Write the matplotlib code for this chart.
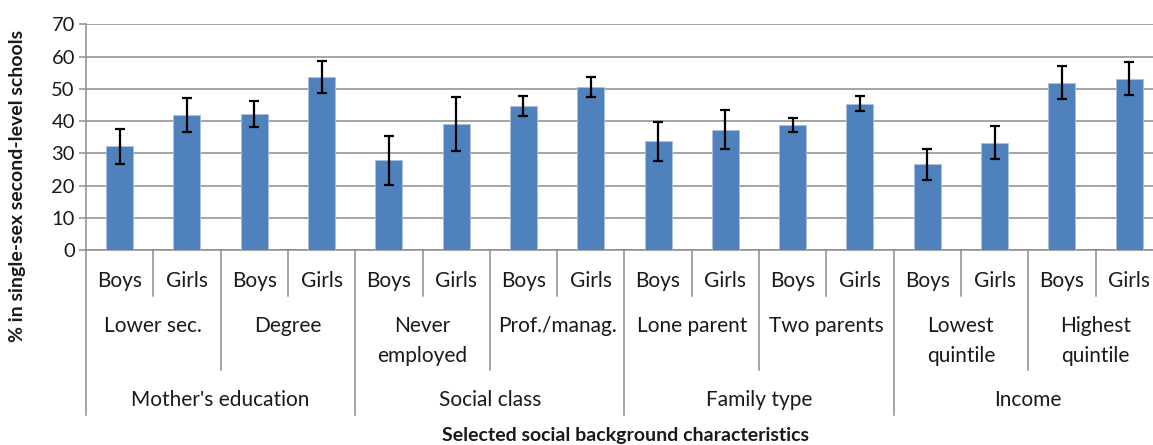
import matplotlib
matplotlib.use("Agg")
import matplotlib.pyplot as plt
import matplotlib.transforms as mtransforms
import numpy as np

# ---- data ----
groups = ["Mother's education", "Social class", "Family type", "Income"]
subgroups = ["Lower sec.", "Degree", "Never\nemployed", "Prof./manag.",
             "Lone parent", "Two parents", "Lowest\nquintile", "Highest\nquintile"]
sexes = ["Boys", "Girls"]
values = [32.3, 41.9, 42.2, 53.7, 27.8, 39.1, 44.7, 50.7,
          33.7, 37.3, 38.7, 45.4, 26.6, 33.3, 51.9, 53.1]
err_high = [37.6, 47.1, 46.3, 58.5, 35.4, 47.4, 47.8, 53.8,
            39.8, 43.5, 40.9, 47.8, 31.3, 38.5, 57.1, 58.3]
err_low = [26.8, 36.5, 38.2, 48.7, 20.2, 30.8, 41.7, 47.4,
           27.5, 31.2, 36.5, 43.1, 21.8, 28.3, 46.8, 48.2]
yticks = [0, 10, 20, 30, 40, 50, 60, 70]
ylabel = "% in single-sex second-level schools"
xlabel = "Selected social background characteristics"

# ---- layout ----
W, H = 1153, 445
plt.rcParams['font.family'] = ['Lato', 'DejaVu Sans']
fig = plt.figure(figsize=(W / 100, H / 100), dpi=100)
x0_px, x1_px = 86, 86 + 16 * 67.3
y0_px, y1_px = 250, 24.3
ax = fig.add_axes([x0_px / W, 1 - y0_px / H, (x1_px - x0_px) / W, (y0_px - y1_px) / H])

n = len(values)
x = np.arange(n)
vals = np.array(values)
yerr = np.vstack([vals - np.array(err_low), np.array(err_high) - vals])
ax.bar(x, vals, width=0.4, color="#4F81BD", edgecolor="#a9c0de", linewidth=0.6, zorder=3)
ax.errorbar(x, vals, yerr=yerr, fmt="none", ecolor="black", elinewidth=1.6,
            capsize=3.8, capthick=1.6, zorder=4)

ax.set_xlim(-0.5, n - 0.5)
ax.set_ylim(0, 70)
ax.set_yticks(yticks)
ax.set_xticks([])
grid_c = "#8c8c8c"
ax.yaxis.grid(True, color=grid_c, linewidth=1.1, zorder=0)
ax.set_axisbelow(True)
for s in ["top", "right", "bottom"]:
    ax.spines[s].set_visible(False)
ax.spines["left"].set_color(grid_c)
ax.spines["left"].set_linewidth(1.1)
ax.tick_params(axis="y", length=5, width=1.1, color=grid_c, labelsize=14.5,
               labelcolor="#1a1a1a", pad=3)

# ---- multi-level category axis ----
tr = mtransforms.blended_transform_factory(ax.transData, fig.transFigure)
def fy(px):
    return 1 - px / H

line_kw = dict(color=grid_c, linewidth=1.1, transform=tr, clip_on=False)
ax.plot([-0.5, n - 0.5], [fy(y0_px)] * 2, **line_kw)
for b in np.arange(0.5, n, 2):
    ax.plot([b, b], [fy(y0_px), fy(296)], **line_kw)
for b in np.arange(1.5, n, 4):
    ax.plot([b, b], [fy(y0_px), fy(370)], **line_kw)
for b in np.arange(-0.5, n + 0.5, 4):
    ax.plot([b, b], [fy(y0_px), fy(415)], **line_kw)

txt_c = "#1a1a1a"
fs = 15
for i in range(n):
    ax.text(x[i], fy(281), sexes[i % 2], transform=tr, ha="center", va="center",
            fontsize=fs, color=txt_c)
for j, sg in enumerate(subgroups):
    for k, line in enumerate(sg.split("\n")):
        ax.text(2 * j + 0.5, fy(326 + 30 * k), line, transform=tr, ha="center",
                va="center", fontsize=fs, color=txt_c)
for k, g in enumerate(groups):
    ax.text(4 * k + 1.5, fy(400), g, transform=tr, ha="center", va="center",
            fontsize=fs, color=txt_c)

fig.text(18 / W, fy(186), ylabel, rotation=90, ha="center", va="center",
         fontsize=14, fontweight="bold", color=txt_c)
fig.text(625 / W, fy(435), xlabel, ha="center", va="center",
         fontsize=14, fontweight="bold", color=txt_c)

fig.savefig("out.png", dpi=100)
